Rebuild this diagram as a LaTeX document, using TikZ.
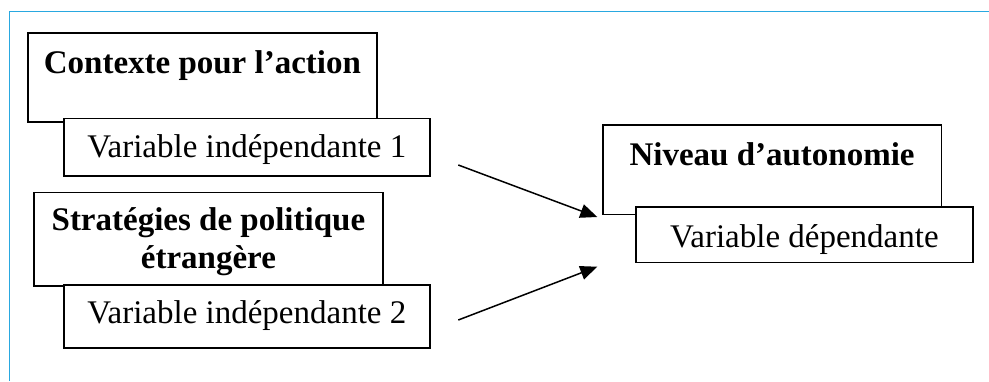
\documentclass[tikz,border=0pt]{standalone}
\usepackage{fontspec}
\setmainfont{Liberation Serif}
\usetikzlibrary{positioning,arrows.meta}

\begin{document}
\begin{tikzpicture}[x=1pt, y=-1pt,
    box/.style={draw, fill=white, line width=1.5pt, inner sep=0pt, anchor=north west, font=\fontsize{33}{38}\selectfont},
    link/.style={-{Triangle[length=17pt,width=14pt]}, line width=1.5pt}]
    \useasboundingbox (0,0) rectangle (989,381);
    \definecolor{frameblue}{RGB}{41,168,224}
    \draw[frameblue, line width=1pt] (989,11.3) -- (9.5,11.3) -- (9.5,381);

    \node[box, font=\fontsize{33}{38}\selectfont\bfseries, minimum width=348.7, text height=40.7, text depth=48.6] (ctx) at (27.3,32) {Contexte pour l’action};
    \node[box, minimum width=365.7, text height=39, text depth=18.6] (vi1) at (63.3,117.7) {Variable indépendante 1};
    \node[box, font=\fontsize{33}{38}\selectfont\bfseries, minimum width=348.7, text height=76.3, text depth=17.3, align=center] (strat) at (33.3,191.7) {Stratégies de politique\\étrangère};
    \node[box, minimum width=365.7, text height=38.7, text depth=24.6] (vi2) at (63.3,284) {Variable indépendante 2};
    \node[box, font=\fontsize{33}{38}\selectfont\bfseries, minimum width=338.7, text height=41, text depth=48.7] (niv) at (602,124) {Niveau d’autonomie};
    \node[box, minimum width=336.7, text height=40.7, text depth=15] (vd) at (635.3,206) {Variable dépendante};

    \coordinate (s1) at (458.3,165);
    \coordinate (e1) at (597.3,217);
    \coordinate (s2) at (458.3,320);
    \coordinate (e2) at (597.3,266.7);
    \draw[link] (s1) -- (e1);
    \draw[link] (s2) -- (e2);
\end{tikzpicture}
\end{document}
